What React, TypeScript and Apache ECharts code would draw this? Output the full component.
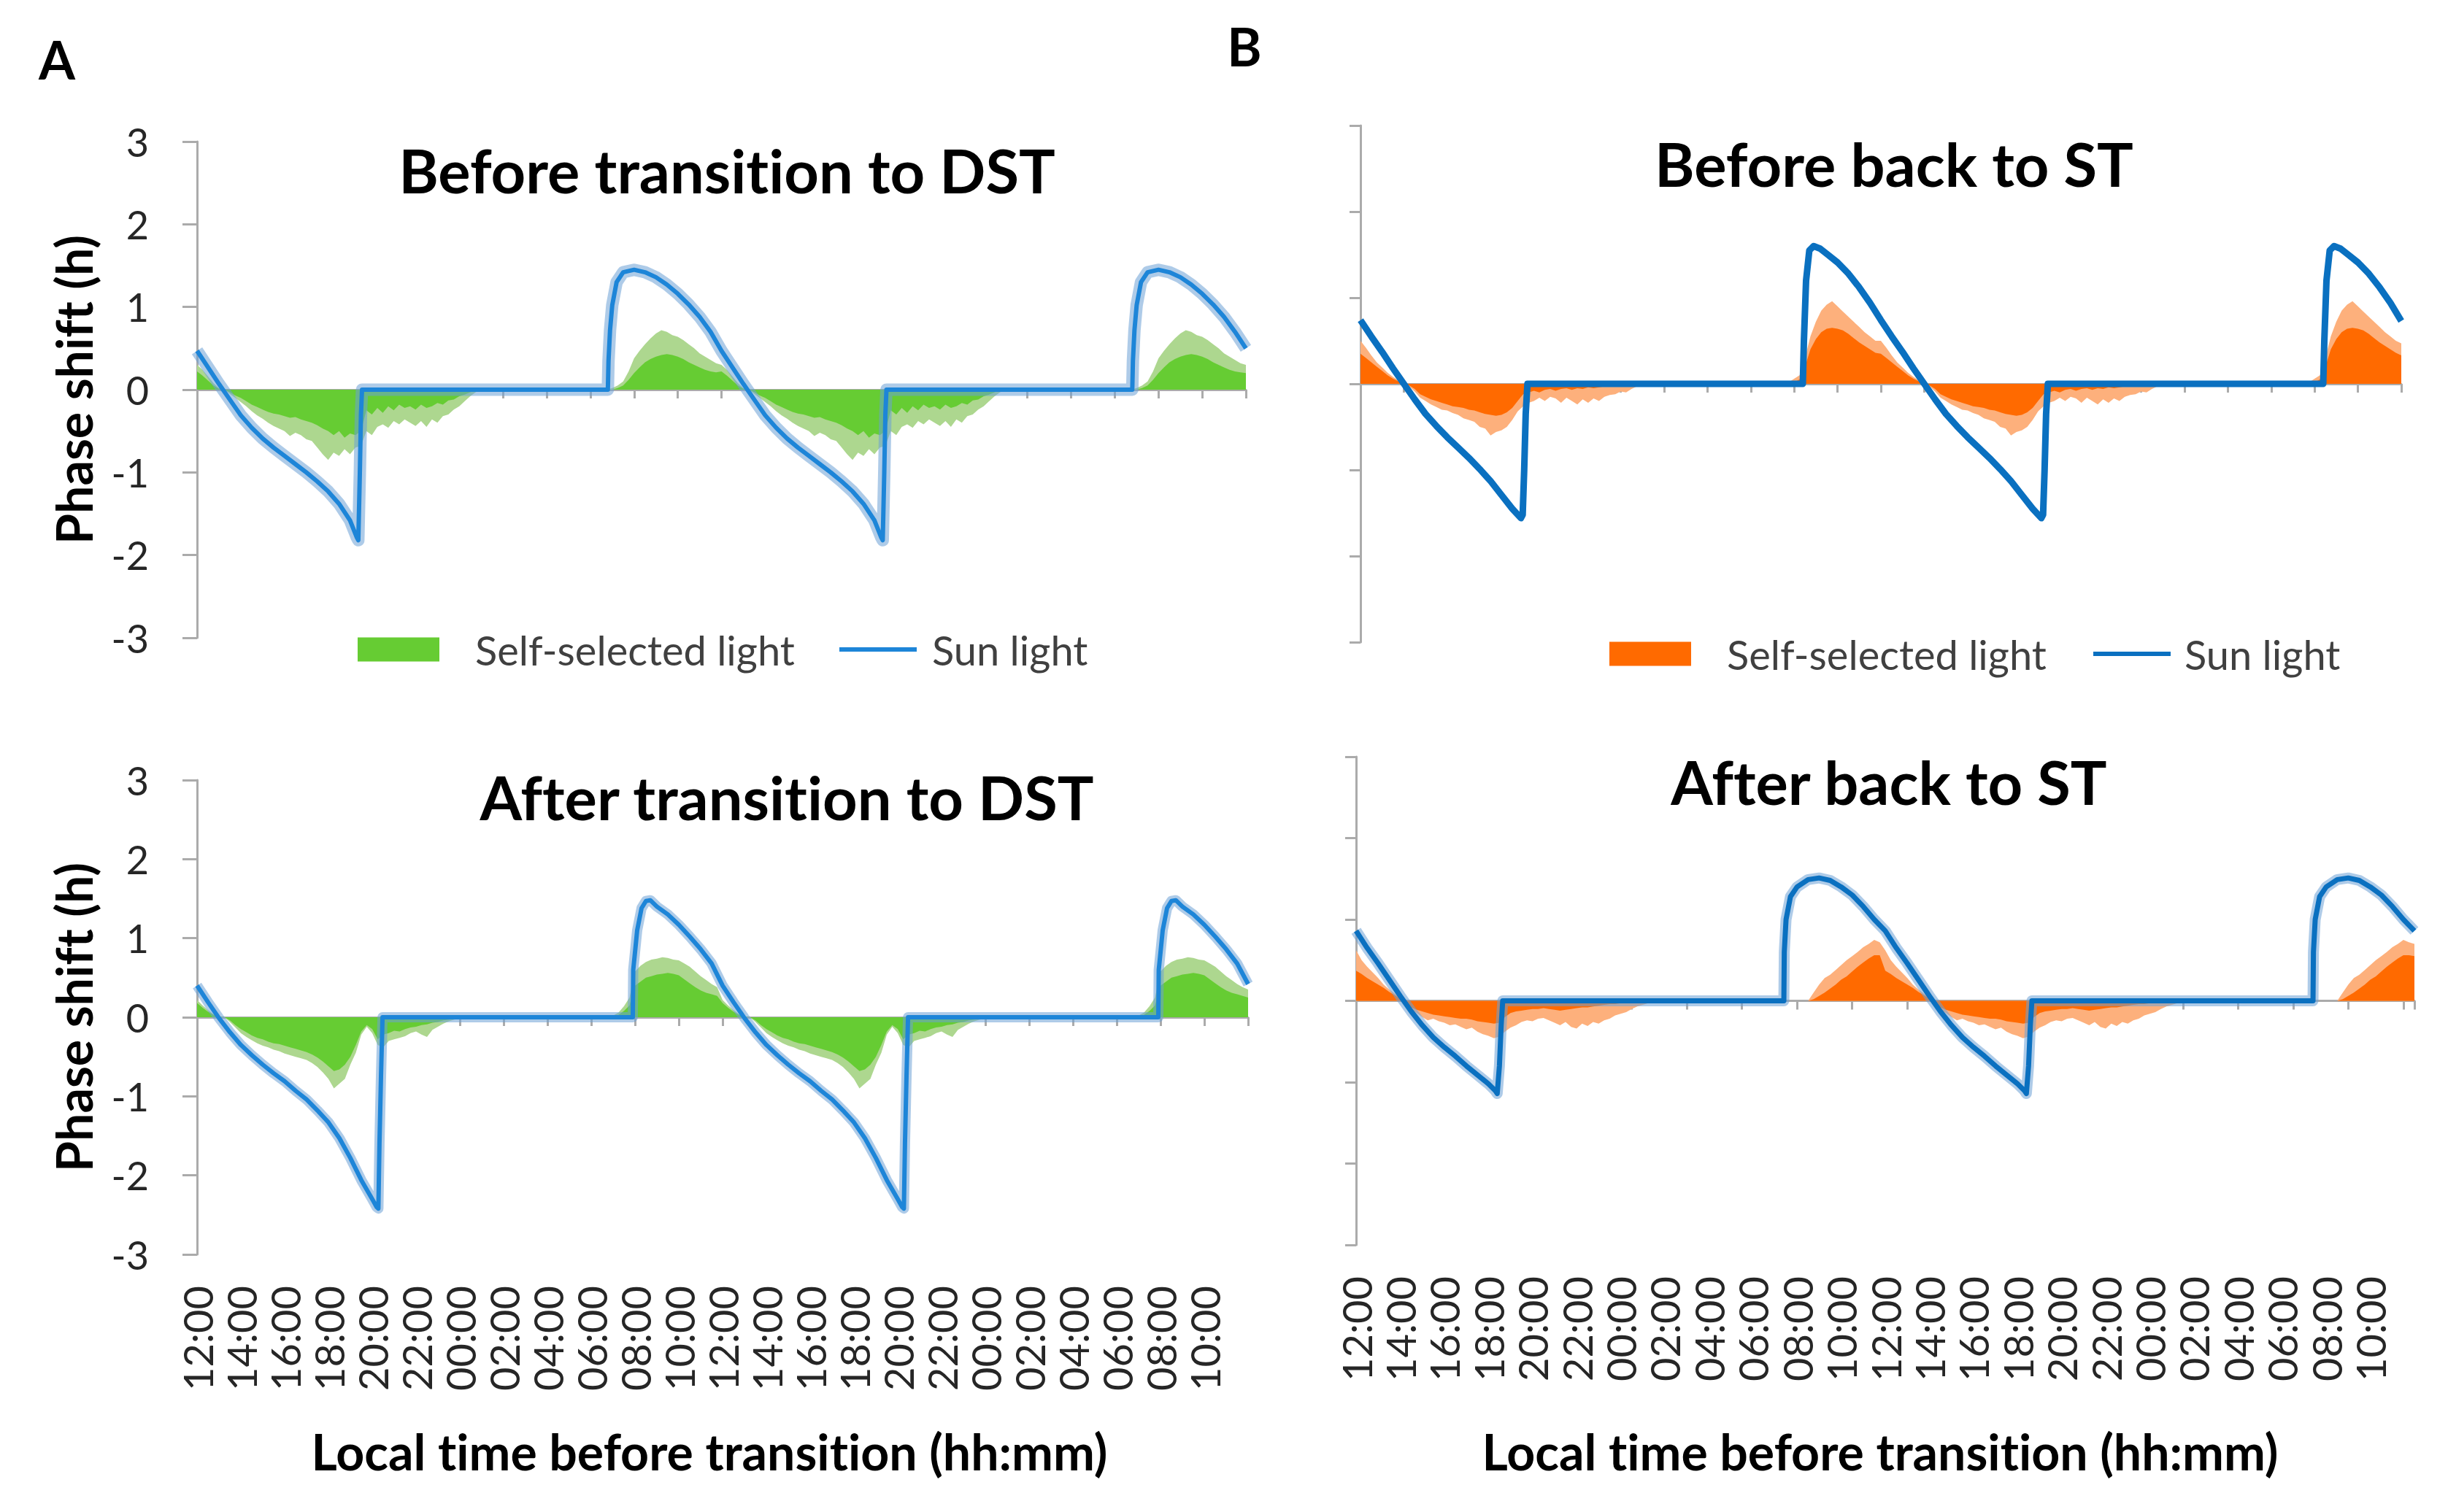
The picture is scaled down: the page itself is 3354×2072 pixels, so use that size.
import React, { useEffect, useRef } from 'react';
import * as echarts from 'echarts';

// ---------- text ----------
const CLOCK_LABELS = ['12:00', '14:00', '16:00', '18:00', '20:00', '22:00', '00:00', '02:00', '04:00', '06:00', '08:00', '10:00'];
const PANEL_TITLES = ['Before transition to DST', 'After transition to DST', 'Before back to ST', 'After back to ST'];
const PANEL_LETTERS = ['A', 'B'];
const LEGEND_SELF = 'Self-selected light';
const LEGEND_SUN = 'Sun light';
const Y_NAME = 'Phase shift (h)';
const X_NAME = 'Local time before transition (hh:mm)';

// sampling grid of the self-selected light curves (hours after 12:00), one day
const STEP_HOURS = Array.from({ length: 97 }, (_, i) => i * 0.25);

// ---------- sun light (hour after 12:00, phase shift h), one day ----------
const SUN_AT: [number, number][] = [
  [0, 0.47], [0.5, 0.27], [1, 0.07], [1.5, -0.12], [2, -0.31], [2.5, -0.46], [3, -0.59], [3.5, -0.7], [4, -0.8],
  [4.5, -0.9], [5, -1.0], [5.5, -1.11], [6, -1.23], [6.5, -1.38], [7, -1.58], [7.3, -1.78], [7.38, -1.82],
  [7.45, -1.0], [7.5, -0.3], [7.55, 0], [18.8, 0], [18.83, 0.35], [18.9, 0.72], [19.0, 1.02], [19.2, 1.3],
  [19.5, 1.42], [20, 1.45], [20.5, 1.42], [21, 1.36], [21.5, 1.27], [22, 1.16], [22.5, 1.03], [23, 0.88],
  [23.5, 0.7], [24, 0.5],
];
const SUN_AB: [number, number][] = [
  [0, 0.4], [0.5, 0.19], [1, -0.01], [1.5, -0.19], [2, -0.35], [2.5, -0.48], [3, -0.6], [3.5, -0.71], [4, -0.81],
  [4.5, -0.93], [5, -1.04], [5.5, -1.18], [6, -1.33], [6.5, -1.53], [7, -1.78], [7.5, -2.06], [8, -2.3],
  [8.2, -2.4], [8.28, -2.42], [8.33, -1.6], [8.4, -0.75], [8.47, 0], [19.9, 0], [19.92, 0.6], [20, 0.82],
  [20.1, 1.1], [20.3, 1.38], [20.5, 1.47], [20.7, 1.48], [21, 1.4], [21.5, 1.3], [22, 1.17], [22.5, 1.02],
  [23, 0.86], [23.5, 0.68], [24, 0.42],
];
const SUN_BT: [number, number][] = [
  [0, 0.74], [0.5, 0.55], [1, 0.37], [1.5, 0.18], [2, 0], [2.5, -0.18], [3, -0.35], [3.5, -0.49], [4, -0.62],
  [4.5, -0.74], [5, -0.86], [5.5, -0.99], [6, -1.13], [6.5, -1.29], [7, -1.45], [7.4, -1.56], [7.48, -1.52],
  [7.55, -1.0], [7.62, -0.35], [7.7, 0], [20.4, 0], [20.45, 0.5], [20.55, 1.2], [20.7, 1.55], [20.9, 1.6],
  [21.2, 1.57], [21.5, 1.51], [22, 1.41], [22.5, 1.28], [23, 1.12], [23.5, 0.94], [24, 0.73],
];
const SUN_BB: [number, number][] = [
  [0, 0.86], [0.5, 0.65], [1, 0.46], [1.5, 0.26], [2, 0.06], [2.5, -0.13], [3, -0.3], [3.5, -0.45], [4, -0.57],
  [4.5, -0.68], [5, -0.8], [5.5, -0.91], [6, -1.02], [6.3, -1.1], [6.4, -1.14], [6.5, -0.8], [6.58, -0.3],
  [6.65, 0], [19.4, 0], [19.42, 0.6], [19.5, 1.0], [19.7, 1.28], [20, 1.4], [20.5, 1.49], [21, 1.51],
  [21.5, 1.48], [22, 1.4], [22.5, 1.3], [23, 1.16], [23.5, 1.0], [24, 0.86],
];

// ---------- self-selected light, mean (dark) and upper envelope (light), one day on STEP_HOURS ----------
const DARK_AT = [
  0.22, 0.17, 0.11, 0.05, 0.01, 0, -0.03, -0.07, -0.1, -0.14, -0.18, -0.21, -0.24, -0.27, -0.29, -0.3,
  -0.32, -0.34, -0.33, -0.36, -0.38, -0.4, -0.43, -0.47, -0.5, -0.55, -0.5, -0.58, -0.53, -0.55, -0.5, -0.25,
  -0.3, -0.22, -0.28, -0.2, -0.25, -0.18, -0.22, -0.2, -0.24, -0.18, -0.22, -0.2, -0.16, -0.18, -0.13, -0.12,
  -0.08, -0.06, -0.03, -0.01, 0, 0, 0, 0, 0, 0, 0, 0, 0, 0, 0, 0,
  0, 0, 0, 0, 0, 0, 0, 0, 0, 0, 0, 0, 0, 0.02, 0.05, 0.12,
  0.2, 0.27, 0.33, 0.37, 0.4, 0.42, 0.43, 0.42, 0.4, 0.37, 0.33, 0.3, 0.27, 0.24, 0.22, 0.21, 0.2,
];
const LIGHT_AT = [
  0.3, 0.24, 0.16, 0.08, 0.02, 0, -0.05, -0.1, -0.15, -0.2, -0.26, -0.31, -0.35, -0.4, -0.44, -0.47,
  -0.5, -0.56, -0.52, -0.55, -0.6, -0.62, -0.7, -0.78, -0.85, -0.76, -0.8, -0.72, -0.78, -0.7, -0.68, -0.5,
  -0.55, -0.45, -0.42, -0.46, -0.38, -0.42, -0.36, -0.4, -0.44, -0.38, -0.45, -0.36, -0.4, -0.32, -0.3, -0.24,
  -0.2, -0.14, -0.08, -0.03, 0, 0, 0, 0, 0, 0, 0, 0, 0, 0, 0, 0,
  0, 0, 0, 0, 0, 0, 0, 0, 0, 0, 0, 0, 0.02, 0.05, 0.1, 0.22,
  0.38, 0.47, 0.55, 0.62, 0.68, 0.72, 0.7, 0.66, 0.64, 0.6, 0.55, 0.5, 0.44, 0.4, 0.36, 0.32, 0.3,
];
const DARK_AB = [
  0.18, 0.12, 0.07, 0.03, 0.01, 0, -0.04, -0.1, -0.15, -0.19, -0.23, -0.26, -0.28, -0.31, -0.33, -0.34,
  -0.36, -0.38, -0.4, -0.42, -0.44, -0.47, -0.51, -0.56, -0.62, -0.68, -0.66, -0.6, -0.5, -0.35, -0.18, -0.1,
  -0.15, -0.28, -0.22, -0.2, -0.17, -0.18, -0.15, -0.13, -0.12, -0.1, -0.09, -0.07, -0.06, -0.04, -0.03, -0.02,
  -0.01, 0, 0, 0, 0, 0, 0, 0, 0, 0, 0, 0, 0, 0, 0, 0,
  0, 0, 0, 0, 0, 0, 0, 0, 0, 0, 0, 0, 0, 0.03, 0.08, 0.15,
  0.4, 0.45, 0.5, 0.52, 0.54, 0.55, 0.56, 0.55, 0.53, 0.48, 0.43, 0.38, 0.34, 0.31, 0.29, 0.27, 0.25,
];
const LIGHT_AB = [
  0.22, 0.15, 0.09, 0.04, 0.01, 0, -0.06, -0.13, -0.2, -0.25, -0.29, -0.33, -0.36, -0.38, -0.41, -0.43,
  -0.46, -0.48, -0.5, -0.52, -0.54, -0.58, -0.63, -0.7, -0.78, -0.9, -0.84, -0.78, -0.6, -0.45, -0.22, -0.12,
  -0.2, -0.35, -0.38, -0.3, -0.28, -0.26, -0.24, -0.2, -0.18, -0.22, -0.25, -0.16, -0.12, -0.08, -0.05, -0.03,
  -0.02, 0, 0, 0, 0, 0, 0, 0, 0, 0, 0, 0, 0, 0, 0, 0,
  0, 0, 0, 0, 0, 0, 0, 0, 0, 0, 0, 0, 0.02, 0.06, 0.14, 0.25,
  0.58, 0.65, 0.7, 0.73, 0.74, 0.76, 0.75, 0.73, 0.72, 0.68, 0.64, 0.58, 0.52, 0.47, 0.42, 0.38, 0.35,
];
const DARK_BT = [
  0.35, 0.3, 0.25, 0.2, 0.15, 0.1, 0.06, 0.03, 0.01, -0.02, -0.06, -0.12, -0.15, -0.18, -0.2, -0.22,
  -0.24, -0.26, -0.27, -0.28, -0.3, -0.31, -0.33, -0.35, -0.36, -0.37, -0.36, -0.33, -0.28, -0.2, -0.12, -0.1,
  -0.08, -0.1, -0.07, -0.06, -0.08, -0.06, -0.05, -0.07, -0.05, -0.06, -0.04, -0.05, -0.04, -0.03, -0.03, -0.02,
  -0.02, -0.01, -0.01, 0, 0, 0, 0, 0, 0, 0, 0, 0, 0, 0, 0, 0,
  0, 0, 0, 0, 0, 0, 0, 0, 0, 0, 0, 0, 0, 0, 0, 0,
  0.02, 0.05, 0.2, 0.4, 0.52, 0.6, 0.64, 0.65, 0.64, 0.62, 0.58, 0.53, 0.48, 0.44, 0.4, 0.36, 0.33,
];
const LIGHT_BT = [
  0.5, 0.42, 0.33, 0.25, 0.19, 0.13, 0.08, 0.04, 0.01, -0.03, -0.09, -0.16, -0.2, -0.24, -0.27, -0.3,
  -0.31, -0.34, -0.36, -0.4, -0.42, -0.44, -0.5, -0.52, -0.6, -0.56, -0.54, -0.5, -0.42, -0.32, -0.26, -0.22,
  -0.2, -0.16, -0.2, -0.15, -0.17, -0.22, -0.16, -0.2, -0.24, -0.18, -0.22, -0.17, -0.2, -0.15, -0.13, -0.12,
  -0.09, -0.1, -0.06, -0.03, 0, 0, 0, 0, 0, 0, 0, 0, 0, 0, 0, 0,
  0, 0, 0, 0, 0, 0, 0, 0, 0, 0, 0, 0, 0, 0, 0, 0.02,
  0.06, 0.1, 0.3, 0.55, 0.72, 0.85, 0.92, 0.96, 0.9, 0.84, 0.78, 0.72, 0.66, 0.6, 0.55, 0.5, 0.47,
];
const DARK_BB = [
  0.37, 0.33, 0.28, 0.24, 0.2, 0.16, 0.11, 0.07, 0.03, 0, -0.08, -0.11, -0.13, -0.15, -0.17, -0.18,
  -0.19, -0.2, -0.21, -0.22, -0.22, -0.23, -0.25, -0.26, -0.27, -0.28, -0.27, -0.2, -0.15, -0.13, -0.12, -0.11,
  -0.1, -0.1, -0.09, -0.1, -0.11, -0.12, -0.11, -0.1, -0.09, -0.08, -0.08, -0.07, -0.06, -0.05, -0.04, -0.04,
  -0.03, -0.02, -0.02, -0.01, 0, 0, 0, 0, 0, 0, 0, 0, 0, 0, 0, 0,
  0, 0, 0, 0, 0, 0, 0, 0, 0, 0, 0, 0, 0, 0, 0, 0,
  0, 0, 0, 0.02, 0.06, 0.1, 0.15, 0.2, 0.26, 0.3, 0.36, 0.42, 0.47, 0.52, 0.56, 0.56, 0.55,
];
const LIGHT_BB = [
  0.62, 0.5, 0.42, 0.35, 0.28, 0.2, 0.14, 0.09, 0.04, 0.01, -0.11, -0.15, -0.2, -0.24, -0.22, -0.25,
  -0.27, -0.3, -0.29, -0.32, -0.35, -0.33, -0.38, -0.41, -0.43, -0.46, -0.44, -0.38, -0.33, -0.3, -0.26, -0.24,
  -0.25, -0.22, -0.21, -0.24, -0.27, -0.3, -0.26, -0.32, -0.34, -0.28, -0.31, -0.26, -0.28, -0.24, -0.22, -0.18,
  -0.16, -0.14, -0.1, -0.07, -0.05, -0.03, -0.01, 0, 0, 0, 0, 0, 0, 0, 0, 0,
  0, 0, 0, 0, 0, 0, 0, 0, 0, 0, 0, 0, 0, 0, 0, 0,
  0, 0, 0, 0.1, 0.2, 0.28, 0.32, 0.38, 0.44, 0.5, 0.55, 0.6, 0.66, 0.7, 0.75, 0.72, 0.7,
];

// ---------- helpers ----------
// the recording shows the same day twice; lay the day out on both days of the 48 h axis
function twoDays(hours: number[], vals: number[]): [number, number][] {
  const out: [number, number][] = [];
  for (let d = 0; d < 2; d++) {
    for (let i = 0; i < hours.length; i++) {
      if (d === 0 && hours[i] >= 24) continue;
      out.push([hours[i] + 24 * d, vals[i]]);
    }
  }
  return out;
}
function twoDaysPairs(pairs: [number, number][]): [number, number][] {
  return twoDays(pairs.map((p) => p[0]), pairs.map((p) => p[1]));
}

const FONT = 'Lato, "Open Sans", "DejaVu Sans", sans-serif';
const AXIS_GRAY = '#ABABAB';
const LABEL_COLOR = '#262626';
const LEGEND_COLOR = '#404040';
const GREEN = '#66CC33';
const GREEN_LIGHT = '#ADD78F';
const ORANGE = '#FF6A00';
const ORANGE_LIGHT = '#FDB07C';
const BLUE_A = '#1D85D8';
const BLUE_B = '#0A70C0';
const HALO = 'rgba(108,160,214,0.55)';

type Panel = {
  grid: { left: number; top: number; width: number; height: number };
  title: string; tcx: number; tcy: number;
  sun: [number, number][]; dark: number[]; light: number[];
  darkColor: string; lightColor: string; lineColor: string;
  lineWidth: number; haloWidth: number;
  yLabels: boolean; bottomRow: boolean; zeroTickInterval: number; yTickLen: number;
  nameGap: number; namePadRight: number;
};

const PANELS: Panel[] = [
  {
    grid: { left: 270, top: 194, width: 1437, height: 680 }, title: PANEL_TITLES[0], tcx: 996, tcy: 233,
    sun: SUN_AT, dark: DARK_AT, light: LIGHT_AT, darkColor: GREEN, lightColor: GREEN_LIGHT, lineColor: BLUE_A,
    lineWidth: 6, haloWidth: 17, yLabels: true, bottomRow: false, zeroTickInterval: 2, yTickLen: 20,
    nameGap: 0, namePadRight: 0,
  },
  {
    grid: { left: 270, top: 1069, width: 1440, height: 650 }, title: PANEL_TITLES[1], tcx: 1078, tcy: 1092,
    sun: SUN_AB, dark: DARK_AB, light: LIGHT_AB, darkColor: GREEN, lightColor: GREEN_LIGHT, lineColor: BLUE_A,
    lineWidth: 6, haloWidth: 14, yLabels: true, bottomRow: true, zeroTickInterval: 2, yTickLen: 20,
    nameGap: 235, namePadRight: 36,
  },
  {
    grid: { left: 1864, top: 172, width: 1426, height: 708 }, title: PANEL_TITLES[2], tcx: 2595, tcy: 224,
    sun: SUN_BT, dark: DARK_BT, light: LIGHT_BT, darkColor: ORANGE, lightColor: ORANGE_LIGHT, lineColor: BLUE_B,
    lineWidth: 9, haloWidth: 0, yLabels: false, bottomRow: false, zeroTickInterval: 2, yTickLen: 15,
    nameGap: 0, namePadRight: 0,
  },
  {
    grid: { left: 1858, top: 1037, width: 1450, height: 669 }, title: PANEL_TITLES[3], tcx: 2588, tcy: 1071,
    sun: SUN_BB, dark: DARK_BB, light: LIGHT_BB, darkColor: ORANGE, lightColor: ORANGE_LIGHT, lineColor: BLUE_B,
    lineWidth: 7, haloWidth: 15, yLabels: false, bottomRow: true, zeroTickInterval: 2.5, yTickLen: 15,
    nameGap: 248, namePadRight: 14,
  },
];

function buildOption() {
  const grid: any[] = [];
  const xAxis: any[] = [];
  const yAxis: any[] = [];
  const series: any[] = [];
  const title: any[] = [];

  PANELS.forEach((p, i) => {
    grid.push({ ...p.grid, containLabel: false });
    title.push({
      text: p.title, left: p.tcx, top: p.tcy, textAlign: 'center', textVerticalAlign: 'middle', padding: 0,
      textStyle: { fontFamily: FONT, fontSize: 83, fontWeight: 'bold', color: '#000' },
    });
    yAxis.push({
      gridIndex: i, type: 'value', min: -3, max: 3, interval: 1, position: 'left',
      axisLine: { show: true, onZero: false, lineStyle: { color: AXIS_GRAY, width: 3 } },
      axisTick: { show: true, length: p.yTickLen, lineStyle: { color: AXIS_GRAY, width: 3 } },
      axisLabel: { show: p.yLabels, fontFamily: FONT, fontSize: 54, color: LABEL_COLOR, margin: 66 },
      splitLine: { show: false },
      name: p.yLabels ? Y_NAME : '', nameLocation: 'middle', nameGap: 136,
      nameTextStyle: { fontFamily: FONT, fontSize: 68, fontWeight: 'bold', color: '#000' },
    });
    const dataAxisIndex = xAxis.length;
    if (p.bottomRow) {
      xAxis.push({
        gridIndex: i, type: 'value', min: 0, max: 48, interval: 2, position: 'bottom',
        axisLine: { show: false, onZero: false }, axisTick: { show: false }, splitLine: { show: false },
        axisLabel: {
          rotate: 90, margin: 43, fontFamily: FONT, fontSize: 56, color: LABEL_COLOR,
          formatter: (v: number) => (v >= 48 ? '' : CLOCK_LABELS[Math.round(v / 2) % 12]),
        },
        name: X_NAME, nameLocation: 'middle', nameGap: p.nameGap,
        nameTextStyle: {
          fontFamily: FONT, fontSize: 68, fontWeight: 'bold', color: '#000', padding: [0, p.namePadRight, 0, 0],
        },
      });
      xAxis.push({
        gridIndex: i, type: 'value', min: 0, max: 48, interval: p.zeroTickInterval, position: 'top',
        axisLine: { show: true, onZero: true, lineStyle: { color: AXIS_GRAY, width: 3 } },
        axisTick: { show: true, inside: true, length: 12, lineStyle: { color: AXIS_GRAY, width: 3 } },
        axisLabel: { show: false }, splitLine: { show: false },
      });
    } else {
      xAxis.push({
        gridIndex: i, type: 'value', min: 0, max: 48, interval: p.zeroTickInterval, position: 'bottom',
        axisLine: { show: true, onZero: true, lineStyle: { color: AXIS_GRAY, width: 3 } },
        axisTick: { show: true, length: 12, lineStyle: { color: AXIS_GRAY, width: 3 } },
        axisLabel: { show: false }, splitLine: { show: false },
      });
    }
    const common = { xAxisIndex: dataAxisIndex, yAxisIndex: i, type: 'line', symbol: 'none', showSymbol: false, silent: true };
    series.push({
      ...common, name: LEGEND_SELF + ' (upper)', data: twoDays(STEP_HOURS, p.light),
      lineStyle: { width: 0 }, areaStyle: { color: p.lightColor, opacity: 1 }, itemStyle: { color: p.lightColor },
    });
    series.push({
      ...common, name: LEGEND_SELF, data: twoDays(STEP_HOURS, p.dark),
      lineStyle: { width: 0 }, areaStyle: { color: p.darkColor, opacity: 1 }, itemStyle: { color: p.darkColor },
    });
    if (p.haloWidth > 0) {
      series.push({
        ...common, name: LEGEND_SUN + ' (band)', data: twoDaysPairs(p.sun),
        lineStyle: { width: p.haloWidth, color: HALO, join: 'round' }, itemStyle: { color: HALO },
      });
    }
    series.push({
      ...common, name: LEGEND_SUN, data: twoDaysPairs(p.sun),
      lineStyle: { width: p.lineWidth, color: p.lineColor, join: 'round' }, itemStyle: { color: p.lineColor },
    });
  });

  const legendText = (pad: number) => ({
    fontFamily: FONT, fontSize: 56, color: LEGEND_COLOR, padding: [0, 0, 0, pad],
  });
  const legend = [
    {
      left: 490, top: 862, padding: 0, selectedMode: false, icon: 'rect', itemWidth: 112, itemHeight: 33,
      data: [{ name: LEGEND_SELF, itemStyle: { color: GREEN } }], textStyle: legendText(44),
    },
    {
      left: 1150, top: 862, padding: 0, selectedMode: false, icon: 'rect', itemWidth: 106, itemHeight: 6,
      data: [{ name: LEGEND_SUN, itemStyle: { color: BLUE_A } }], textStyle: legendText(16),
    },
    {
      left: 2205, top: 868, padding: 0, selectedMode: false, icon: 'rect', itemWidth: 112, itemHeight: 33,
      data: [{ name: LEGEND_SELF, itemStyle: { color: ORANGE } }], textStyle: legendText(44),
    },
    {
      left: 2868, top: 868, padding: 0, selectedMode: false, icon: 'rect', itemWidth: 106, itemHeight: 6,
      data: [{ name: LEGEND_SUN, itemStyle: { color: BLUE_B } }], textStyle: legendText(14),
    },
  ];

  const graphic = [
    { type: 'text', x: 78, y: 81, style: { text: PANEL_LETTERS[0], font: `bold 72px ${FONT}`, fill: '#000', textAlign: 'center', textVerticalAlign: 'middle' } },
    { type: 'text', x: 1705, y: 63, style: { text: PANEL_LETTERS[1], font: `bold 72px ${FONT}`, fill: '#000', textAlign: 'center', textVerticalAlign: 'middle' } },
  ];

  return {
    animation: false,
    backgroundColor: '#ffffff',
    textStyle: { fontFamily: FONT },
    title, grid, xAxis, yAxis, series, legend, graphic,
  };
}

export default function App() {
  const ref = useRef<HTMLDivElement>(null);
  useEffect(() => {
    if (!ref.current) return;
    const chart = echarts.init(ref.current, undefined, { renderer: 'svg' });
    chart.setOption(buildOption() as any);
    return () => chart.dispose();
  }, []);
  return (
    <>
      <style>{'svg text { font-variant-ligatures: none !important; font-feature-settings: "liga" 0, "clig" 0 !important; }'}</style>
      <div
        ref={ref}
        style={{ position: 'fixed', left: 0, top: 0, width: 3354, height: 2072, background: '#fff' }}
      />
    </>
  );
}
